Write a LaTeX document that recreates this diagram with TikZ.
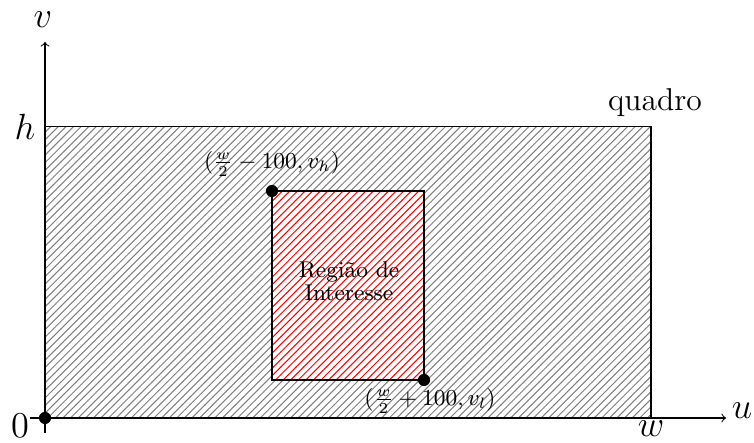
\documentclass[tikz,border=0pt]{standalone}
\usetikzlibrary{patterns}
\begin{document}
\begin{tikzpicture}[x=0.3953pt,y=0.3953pt,
  dot/.style={circle,fill=black,inner sep=0pt,minimum size=4.8pt},
  biglbl/.style={font=\Large,inner sep=0pt},
  smalllbl/.style={font=\small,inner sep=0pt}]
\useasboundingbox (-45,-25) rectangle (709,418);
% frame
\fill[pattern=north east lines,pattern color=gray] (0,0) rectangle (606,291);
\draw (0,0) rectangle (606,291);
% region of interest
\fill[white] (227,38) rectangle (379,227);
\fill[pattern=north east lines,pattern color=red] (227,38) rectangle (379,227);
\draw (227,38) rectangle (379,227);
% axes
\coordinate (xs) at (-15,0);
\coordinate (xe) at (681,0);
\coordinate (ys) at (0,-15);
\coordinate (ye) at (0,376);
\draw[->] (xs) -- (xe);
\draw[->] (ys) -- (ye);
% labels
\node[biglbl] (lv) at (-2,398) {$v$};
\node[biglbl] (lu) at (697,7) {$u$};
\node[biglbl] (lw) at (606,-11) {$w$};
\node[biglbl] (l0) at (-25,-8) {$0$};
\node[biglbl] (lh) at (-20,291) {$h$};
\node[font=\fontsize{12.5}{14}\selectfont,inner sep=0pt] (lq) at (610,315) {quadro};
\node[smalllbl] (lt) at (227,254) {$(\frac{w}{2}-100,v_h)$};
\node[smalllbl] (lb) at (385,17) {$(\frac{w}{2}+100,v_l)$};
\node[smalllbl,align=center,font=\fontsize{9}{8}\selectfont] (roi) at (304,137) {Região de\\Interesse};
% dots
\node[dot] (d0) at (0,0) {};
\node[dot] (d1) at (227,227) {};
\node[dot] (d2) at (379,38) {};
\end{tikzpicture}
\end{document}
